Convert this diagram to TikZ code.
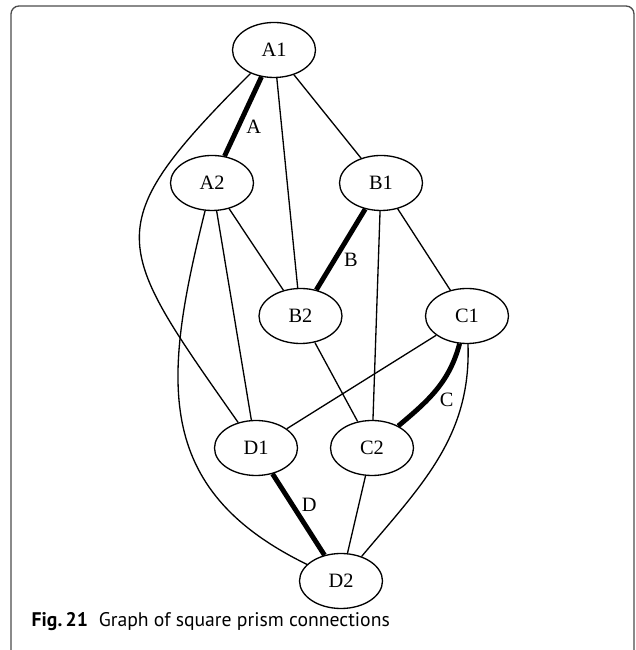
\documentclass[tikz,border=0pt]{standalone}
\usepackage{fontspec}
\setmainfont{Liberation Serif}
\newfontfamily\capfont{PT Sans}
\usepackage{tikz}
\usetikzlibrary{positioning,shapes.geometric}
\newcommand{\vertfont}{\fontsize{11.6}{13}\selectfont}

\begin{document}
\begin{tikzpicture}[node distance=2.66cm, on grid, auto, line width=0.75pt,
    vert/.style={draw, ellipse, minimum width=1.66cm, minimum height=1.1cm, inner sep=0pt, font=\vertfont},
    heavy/.style={line width=2.8pt},
    every edge/.style={draw, line width=0.75pt}]
        \useasboundingbox (0,0) rectangle (12.7,13);
        \draw[rounded corners=0.16cm, draw=black!70] (0.22,-0.3) rectangle (12.68,12.88);

        \node[vert] (A1) at (5.48,12.0) {A1};
        \node[vert, below left=2.66cm and 1.24cm of A1] (A2) {A2};
        \node[vert, below right=2.66cm and 2.14cm of A1] (B1) {B1};
        \node[vert, below right=2.66cm and 1.77cm of A2] (B2) {B2};
        \node[vert, below right=2.66cm and 1.72cm of B1] (C1) {C1};
        \node[vert, below left=2.64cm and 0.89cm of B2] (D1) {D1};
        \node[vert, below right=2.64cm and 1.43cm of B2] (C2) {C2};
        \node[vert, below right=2.66cm and 1.70cm of D1] (D2) {D2};

        \path[every node/.style={font=\vertfont, inner sep=0.5pt}]
          (A1) edge[heavy] node {A} (A2)
          (B1) edge[heavy] node {B} (B2)
          (C1) edge[heavy, out=255, in=40] node {C} (C2)
          (D1) edge[heavy] node {D} (D2);

        \path (A1) edge (B1)
          (A1) edge (B2)
          (A1) edge[out=225, in=125, looseness=1.6] (D1);

        \path (A2) edge (B2)
          (A2) edge (D1)
          (A2) edge[out=256, in=154, looseness=1.2] (D2);

        \path (B1) edge (C1)
          (B1) edge (C2)
          (B2) edge (C2);

        \path (C1) edge (D1)
          (C1) edge[out=272, in=50] (D2)
          (C2) edge (D2);

        \node[anchor=base west, inner sep=0pt, font=\capfont\fontsize{11.2}{13}\selectfont] (cap) at (0.62,0.46)
          {\textbf{Fig.\,21}\hspace{0.55em}Graph of square prism connections};
      \end{tikzpicture}
\end{document}
